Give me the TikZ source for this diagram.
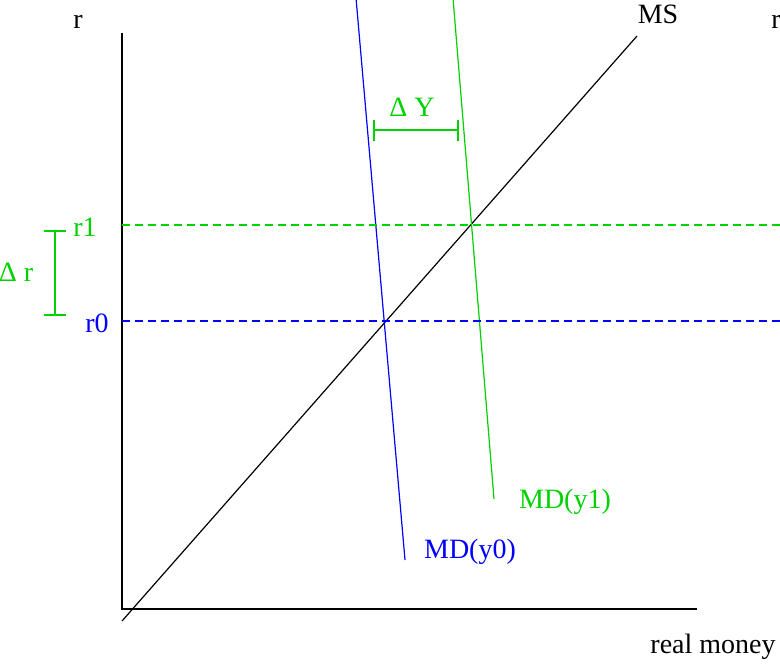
\documentclass[tikz,border=0pt]{standalone}
\usepackage{fontspec}
\setmainfont{Liberation Serif}
\usepackage{xcolor}
\usetikzlibrary{positioning,calc}
\definecolor{CurveBlue}{RGB}{0,0,255}
\definecolor{CurveGreen}{RGB}{0,210,0}

\begin{document}
\begin{tikzpicture}[x=0.5pt,y=-0.5pt]
  \path[use as bounding box] (0,0) rectangle (780,668);
  \tikzset{
    mmLabel/.style={inner sep=0pt, font=\fontsize{14}{16}\selectfont, text=black},
    mmLabelBlue/.style={mmLabel, text=CurveBlue},
    mmLabelGreen/.style={mmLabel, text=CurveGreen},
    mmAxis/.style={draw=black, line width=.65pt},
    mmCurve/.style={line width=.6pt},
    mmLevel/.style={line width=.6pt, dash pattern=on 4pt off 2.5pt},
    mmSpan/.style={draw=CurveGreen, line width=.6pt}
  }

  % axes
  \coordinate (top) at (122,33);
  \coordinate (origin) at (122,609);
  \coordinate (xEnd) at (697,609);
  \draw[mmAxis] (top) -- (origin) -- (xEnd);

  \node[mmLabel] (rLeft) at (78,22) {r};
  \node[mmLabel] (rRight) at (776,22) {r};
  \node[mmLabel] (xLabel) at (713,647) {real money};

  % money supply
  \coordinate (msLow) at (122,621);
  \coordinate (msHigh) at (637,36);
  \draw[mmCurve,draw=black] (msLow) -- (msHigh);
  \node[mmLabel] (msLabel) at (658,14) {MS};

  % money demand, before and after
  \coordinate (md0Top) at (356,-2);
  \coordinate (md0Low) at (405,560);
  \coordinate (md1Top) at (453,-2);
  \coordinate (md1Low) at (494,499);
  \draw[mmCurve,draw=CurveBlue] (md0Top) -- (md0Low);
  \draw[mmCurve,draw=CurveGreen] (md1Top) -- (md1Low);
  \node[mmLabelBlue] (md0Label) at (470,552) {MD(y0)};
  \node[mmLabelGreen] (md1Label) at (565,502) {MD(y1)};

  % interest levels
  \coordinate (r0Start) at (122,321);
  \coordinate (r0End) at (782,321);
  \coordinate (r1Start) at (122,225);
  \coordinate (r1End) at (782,225);
  \draw[mmLevel,draw=CurveBlue] (r0Start) -- (r0End);
  \draw[mmLevel,draw=CurveGreen] (r1Start) -- (r1End);
  \node[mmLabelBlue] (r0Label) at (97,323) {r0};
  \node[mmLabelGreen] (r1Label) at (85,227) {r1};

  % change in r
  \coordinate (drTop) at (55,231);
  \coordinate (drLow) at (55,315);
  \draw[mmSpan] (drTop) -- (drLow);
  \draw[mmSpan] ($(drTop)+(-11,0)$) -- ($(drTop)+(11,0)$);
  \draw[mmSpan] ($(drLow)+(-11,0)$) -- ($(drLow)+(11,0)$);
  \node[mmLabelGreen] (drLabel) at (16,272) {Δ r};

  % change in Y
  \coordinate (dyLeft) at (374,130);
  \coordinate (dyRight) at (458,130);
  \draw[mmSpan] (dyLeft) -- (dyRight);
  \draw[mmSpan] ($(dyLeft)+(0,-10)$) -- ($(dyLeft)+(0,11)$);
  \draw[mmSpan] ($(dyRight)+(0,-10)$) -- ($(dyRight)+(0,11)$);
  \node[mmLabelGreen] (dyLabel) at (412,107) {Δ Y};
\end{tikzpicture}
\end{document}
